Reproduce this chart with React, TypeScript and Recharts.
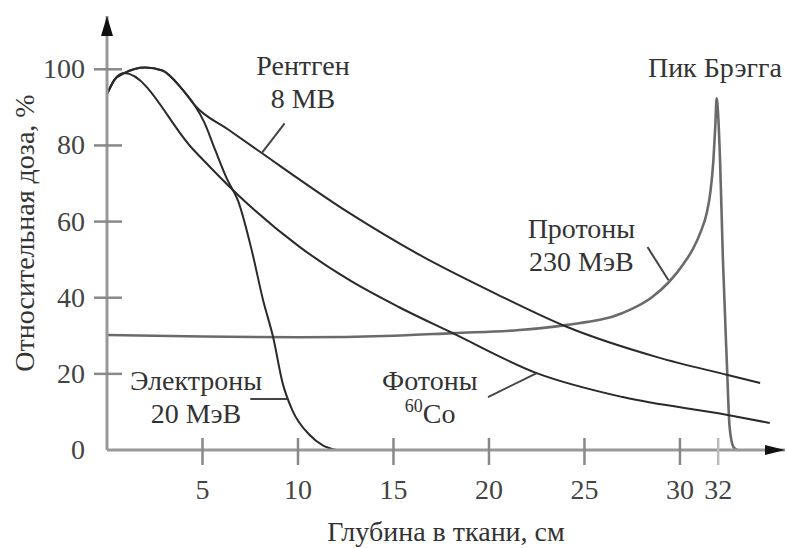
import { LineChart, Line, XAxis, YAxis, ReferenceLine, ReferenceDot, Text } from "recharts";

// depth (cm) vs relative dose (%)
const xrays8MV = [
  { x: 0, y: 93.5 }, { x: 0.4, y: 97.3 }, { x: 0.9, y: 99 }, { x: 2, y: 100.5 },
  { x: 2.9, y: 99.7 }, { x: 3.9, y: 95 }, { x: 4.6, y: 90.5 }, { x: 6.4, y: 84 },
  { x: 8.1, y: 78 }, { x: 12.7, y: 62.2 }, { x: 16.2, y: 51.7 }, { x: 20.5, y: 40.7 },
  { x: 24.1, y: 32.3 }, { x: 28.8, y: 24.4 }, { x: 32.5, y: 19.7 }, { x: 34.2, y: 17.6 },
];

const electrons20 = [
  { x: 0, y: 93.5 }, { x: 0.4, y: 97.3 }, { x: 0.9, y: 99 }, { x: 2, y: 100.5 },
  { x: 2.9, y: 99.7 }, { x: 3.9, y: 95 }, { x: 4.6, y: 90.5 }, { x: 5.1, y: 86 },
  { x: 5.65, y: 79 }, { x: 6.3, y: 71 }, { x: 6.86, y: 65.5 }, { x: 7.6, y: 52 },
  { x: 8.17, y: 39.4 }, { x: 8.7, y: 29.6 }, { x: 9.2, y: 17.5 }, { x: 9.7, y: 10.5 },
  { x: 10.6, y: 4 }, { x: 11.3, y: 1.2 }, { x: 12, y: 0 },
];

const cobalt60 = [
  { x: 0, y: 93.5 }, { x: 0.4, y: 97.3 }, { x: 0.9, y: 99 }, { x: 4.5, y: 79 },
  { x: 6.86, y: 67 }, { x: 10.1, y: 53.3 }, { x: 12.7, y: 44.6 }, { x: 15.3, y: 37.5 },
  { x: 18.1, y: 30.7 }, { x: 22.5, y: 20.2 }, { x: 27, y: 13.9 }, { x: 32.5, y: 9.2 },
  { x: 34.7, y: 7.1 },
];

const protons230 = [
  { x: 0, y: 30.2 }, { x: 5, y: 29.8 }, { x: 10, y: 29.6 }, { x: 15, y: 30 },
  { x: 18.1, y: 30.7 }, { x: 21.6, y: 31.5 }, { x: 24, y: 32.8 }, { x: 27, y: 36 },
  { x: 28.5, y: 40 }, { x: 29.4, y: 44 }, { x: 30.2, y: 49 }, { x: 30.7, y: 53 },
  { x: 31.1, y: 57.5 }, { x: 31.4, y: 62.2 }, { x: 31.6, y: 68 }, { x: 31.75, y: 76 },
  { x: 31.85, y: 85 }, { x: 31.92, y: 92.4 }, { x: 32, y: 88 }, { x: 32.1, y: 76 },
  { x: 32.25, y: 50 }, { x: 32.45, y: 23.6 }, { x: 32.6, y: 6 }, { x: 32.8, y: 0.8 },
  { x: 33, y: 0 },
];

const xTicks = [5, 10, 15, 20, 25, 30, 32];
const yTicks = [0, 20, 40, 60, 80, 100];
const X_MAX = 35.5;
const Y_MAX = 114;

const captions = [
  { lines: ["Рентген", "8 МВ"], x: 10.26, y: 98.4 },
  { lines: ["Пик Брэгга"], x: 31.83, y: 97.9 },
  { lines: ["Протоны", "230 МэВ"], x: 24.84, y: 55.6 },
  { lines: ["Электроны", "20 МэВ"], x: 4.66, y: 15.75 },
  { lines: ["Фотоны", "Co"], sup: "60", x: 16.9, y: 15.75 },
];

const pointers = [
  { from: { x: 9.3, y: 85.8 }, to: { x: 8.1, y: 78 } },
  { from: { x: 28.3, y: 53.3 }, to: { x: 29.4, y: 44.6 } },
  { from: { x: 19.95, y: 13.9 }, to: { x: 22.5, y: 20.2 } },
  { from: { x: 7.5, y: 13.4 }, to: { x: 9.45, y: 13.4 } },
];

const FS = 28;
const serif = (size: number, fill: string) => ({ fontFamily: "Liberation Serif", fontSize: size, fill });
const INK = "#2a2a2a";
const AXIS = "#999";

function XTick({ x, y, payload }: any) {
  return (
    <g>
      <line x1={x} x2={x} y1={y - 12} y2={y + 15} stroke={payload.value === 32 ? "#bbb" : "#888"} strokeWidth={2.5} />
      <Text x={x} y={y + 49} textAnchor="middle" style={serif(FS, "#444")}>
        {String(payload.value)}
      </Text>
    </g>
  );
}

function YTick({ x, y, payload }: any) {
  return (
    <g>
      {payload.value !== 0 && (
        <line x1={x - 13} x2={x + 15} y1={y} y2={y} stroke="#888" strokeWidth={2.5} />
      )}
      <Text x={x - 22} y={y + 9} textAnchor="end" style={serif(FS, "#444")}>
        {String(payload.value)}
      </Text>
    </g>
  );
}

function Caption({ cx, cy, lines, sup }: any) {
  return (
    <g>
      {lines.map((t: string, i: number) => {
        const by = cy + i * 33;
        if (sup && i === lines.length - 1) {
          // superscript mass number before the symbol
          const start = cx - 25;
          return (
            <g key={i}>
              <Text x={start} y={by - 11} textAnchor="start" style={serif(18, "#333")}>
                {sup}
              </Text>
              <Text x={start + 18} y={by} textAnchor="start" style={serif(FS, "#333")}>
                {t}
              </Text>
            </g>
          );
        }
        return (
          <Text key={i} x={cx} y={by} textAnchor="middle" style={serif(FS, "#333")}>
            {t}
          </Text>
        );
      })}
    </g>
  );
}

function ArrowUp({ cx, cy }: any) {
  return <path d={`M${cx},${cy} L${cx - 6},${cy + 20} L${cx + 6},${cy + 20} Z`} fill="#111" />;
}

function ArrowRight({ cx, cy }: any) {
  return <path d={`M${cx},${cy} L${cx - 20},${cy - 5} L${cx - 20},${cy + 5} Z`} fill="#111" />;
}

export default function App() {
  return (
    <div style={{ width: 787, height: 548, background: "#fff" }}>
      <style>{`body{margin:0}`}</style>
      <LineChart width={787} height={548} margin={{ top: 16, right: 2, bottom: 0, left: 0 }}>
        <XAxis
          type="number"
          dataKey="x"
          domain={[0, X_MAX]}
          ticks={xTicks}
          interval={0}
          tickSize={0}
          tickMargin={0}
          tickLine={false}
          tick={<XTick />}
          height={98}
          axisLine={{ stroke: AXIS, strokeWidth: 3 }}
          label={{
            value: "Глубина в ткани, см",
            position: "insideBottom",
            offset: 7,
            style: serif(FS, "#333"),
          }}
        />
        <YAxis
          type="number"
          domain={[0, Y_MAX]}
          ticks={yTicks}
          interval={0}
          tickSize={0}
          tickMargin={0}
          tickLine={false}
          tick={<YTick />}
          width={107}
          axisLine={{ stroke: AXIS, strokeWidth: 3 }}
          label={{
            value: "Относительная доза, %",
            angle: -90,
            position: "insideLeft",
            offset: 24,
            style: { ...serif(FS, "#333"), textAnchor: "middle" },
          }}
        />
        <Line data={protons230} dataKey="y" type="monotone" stroke="#6a6a6a" strokeWidth={2.6} dot={false} isAnimationActive={false} />
        <Line data={xrays8MV} dataKey="y" type="monotone" stroke={INK} strokeWidth={2} dot={false} isAnimationActive={false} />
        <Line data={electrons20} dataKey="y" type="monotone" stroke={INK} strokeWidth={2} dot={false} isAnimationActive={false} />
        <Line data={cobalt60} dataKey="y" type="monotone" stroke={INK} strokeWidth={2} dot={false} isAnimationActive={false} />
        {pointers.map((p, i) => (
          <ReferenceLine
            key={`p${i}`}
            segment={[p.from, p.to]}
            stroke="#444"
            strokeWidth={2}
            ifOverflow="visible"
          />
        ))}
        {captions.map((c, i) => (
          <ReferenceDot
            key={`c${i}`}
            x={c.x}
            y={c.y}
            r={0}
            ifOverflow="visible"
            shape={(props: any) => <Caption {...props} lines={c.lines} sup={c.sup} />}
          />
        ))}
        <ReferenceDot x={0} y={Y_MAX} r={0} ifOverflow="visible" shape={(props: any) => <ArrowUp {...props} />} />
        <ReferenceDot x={X_MAX} y={0} r={0} ifOverflow="visible" shape={(props: any) => <ArrowRight {...props} />} />
      </LineChart>
    </div>
  );
}
